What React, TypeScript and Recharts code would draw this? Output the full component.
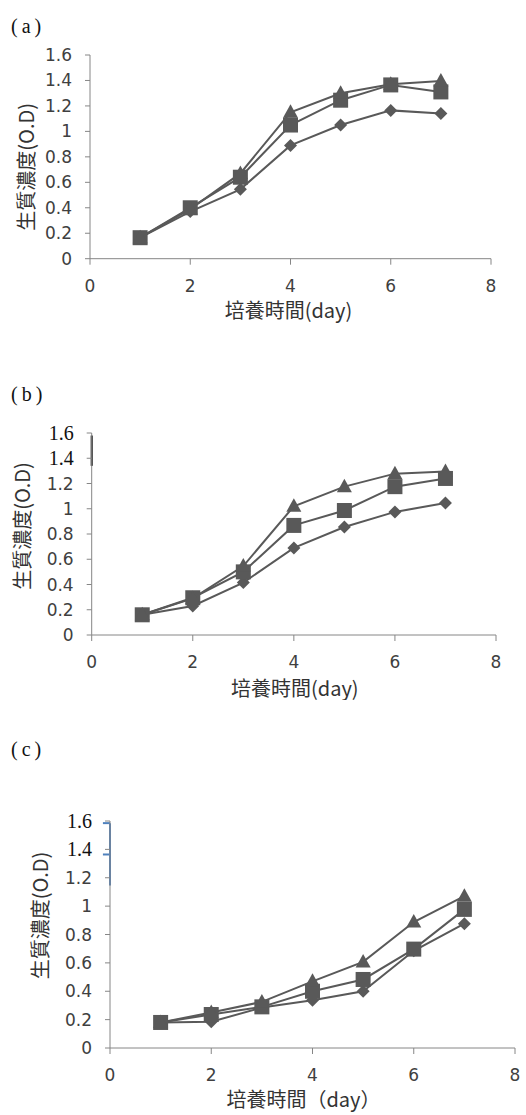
import React from "react";
import { LineChart, Line, XAxis, YAxis, ReferenceLine, Label } from "recharts";

// culture day on the x axis
const days = [1, 2, 3, 4, 5, 6, 7];

// panel (a)
const aDiamond = [0.165, 0.37, 0.545, 0.89, 1.05, 1.165, 1.14];
const aSquare = [0.165, 0.4, 0.64, 1.05, 1.245, 1.365, 1.31];
const aTriangle = [0.165, 0.39, 0.67, 1.15, 1.3, 1.37, 1.395];

// panel (b)
const bDiamond = [0.16, 0.23, 0.415, 0.69, 0.855, 0.975, 1.045];
const bSquare = [0.16, 0.295, 0.5, 0.868, 0.986, 1.175, 1.24];
const bTriangle = [0.16, 0.29, 0.546, 1.02, 1.175, 1.278, 1.295];

// panel (c)
const cDiamond = [0.18, 0.185, 0.285, 0.337, 0.4, 0.685, 0.876];
const cSquare = [0.18, 0.236, 0.29, 0.4, 0.483, 0.697, 0.977];
const cTriangle = [0.18, 0.25, 0.325, 0.47, 0.607, 0.888, 1.07];

const xTicks = [0, 2, 4, 6, 8];
const yTicks = [0, 0.2, 0.4, 0.6, 0.8, 1, 1.2, 1.4, 1.6];

const yTitle = "生質濃度(O.D)";
const xTitleAB = "培養時間(day)";
const xTitleC = "培養時間（day）";

const AXIS = "#868686";
const SERIES = "#595959";
const CJK = "'Noto Sans CJK TC', 'Noto Sans CJK JP', sans-serif";

const toRows = (d: number[], s: number[], t: number[]) =>
  days.map((day, i) => ({ day, diamond: d[i], square: s[i], triangle: t[i] }));

const DiamondDot = (p: any) => {
  const { cx, cy, index } = p;
  if (cx == null || cy == null) return <g key={`d${index}`} />;
  const r = 6.5;
  return (
    <polygon
      key={`d${index}`}
      points={`${cx},${cy - r} ${cx + r},${cy} ${cx},${cy + r} ${cx - r},${cy}`}
      fill={SERIES}
    />
  );
};

const SquareDot = (p: any) => {
  const { cx, cy, index } = p;
  if (cx == null || cy == null) return <g key={`s${index}`} />;
  const r = 7.5;
  return <rect key={`s${index}`} x={cx - r} y={cy - r} width={2 * r} height={2 * r} fill={SERIES} />;
};

const TriangleDot = (p: any) => {
  const { cx, cy, index } = p;
  if (cx == null || cy == null) return <g key={`t${index}`} />;
  return (
    <polygon
      key={`t${index}`}
      points={`${cx},${cy - 8} ${cx + 7.5},${cy + 5.5} ${cx - 7.5},${cy + 5.5}`}
      fill={SERIES}
    />
  );
};

// the top two labels of (b) and (c) are set in a serif face in the original
const makeYTick = (serif: number[]) => (props: any) => {
  const { x, y, payload } = props;
  const v = Number(payload && payload.value);
  const isSerif = serif.some((s) => Math.abs(s - v) < 1e-6);
  return (
    <text
      x={x}
      y={y}
      dy="0.355em"
      textAnchor="end"
      style={{
        fontFamily: isSerif ? "'Liberation Serif', 'Times New Roman', serif" : "'DejaVu Sans', sans-serif",
        fontSize: isSerif ? 20 : 17,
        fill: isSerif ? "#111" : "#404040",
      }}
    >
      {String(v)}
    </text>
  );
};

const yTitleLabel = (dx: number, dy: number) => (props: any) => {
  const { x, y, width, height } = props.viewBox;
  const cx = x + width - dx;
  const cy = y + height / 2 + dy;
  return (
    <text
      x={cx}
      y={cy}
      transform={`rotate(-90 ${cx} ${cy})`}
      textAnchor="middle"
      dominantBaseline="central"
      fontFamily={CJK}
      fontSize={20}
      fill="#333"
    >
      {yTitle}
    </text>
  );
};

const xTitleLabel = (text: string, dx: number, dy: number) => (props: any) => {
  const { x, y, width } = props.viewBox;
  return (
    <text
      x={x + width / 2 + dx}
      y={y + dy}
      textAnchor="middle"
      dominantBaseline="central"
      fontFamily={CJK}
      fontSize={20}
      fill="#333"
    >
      {text}
    </text>
  );
};

interface PanelProps {
  top: number;
  height: number;
  margin: { top: number; right: number; bottom: number; left: number };
  rows: any[];
  tag: string;
  tagTop: number;
  xTitle: string;
  xTitleDx: number;
  xTitleDy: number;
  yTitleDx: number;
  yTitleDy: number;
  serifTicks: number[];
  extra?: React.ReactNode;
}

function Panel(p: PanelProps) {
  return (
    <>
      <div
        style={{
          position: "absolute",
          left: 11,
          top: p.tagTop,
          fontFamily: "'Liberation Serif', serif",
          fontSize: 20,
          letterSpacing: 4,
          color: "#111",
          lineHeight: "22px",
        }}
      >
        {p.tag}
      </div>
      <div style={{ position: "absolute", left: 0, top: p.top }}>
        <LineChart width={526} height={p.height} data={p.rows} margin={p.margin}>
          <XAxis
            dataKey="day"
            type="number"
            domain={[0, 8]}
            ticks={xTicks}
            interval={0}
            stroke={AXIS}
            tickLine={{ stroke: AXIS }}
            tickSize={6}
            tickMargin={15}
            height={60}
            tick={{ fontSize: 17, fill: "#404040", fontFamily: "'DejaVu Sans', sans-serif" }}
          >
            <Label content={xTitleLabel(p.xTitle, p.xTitleDx, p.xTitleDy)} />
          </XAxis>
          <YAxis
            type="number"
            domain={[0, 1.6]}
            ticks={yTicks}
            interval={0}
            stroke={AXIS}
            tickLine={{ stroke: AXIS }}
            tickSize={5}
            tickMargin={13}
            width={60}
            tick={makeYTick(p.serifTicks)}
          >
            <Label content={yTitleLabel(p.yTitleDx, p.yTitleDy)} />
          </YAxis>
          <Line
            dataKey="diamond"
            stroke={SERIES}
            strokeWidth={2}
            dot={DiamondDot}
            activeDot={false}
            isAnimationActive={false}
          />
          <Line
            dataKey="square"
            stroke={SERIES}
            strokeWidth={2}
            dot={SquareDot}
            activeDot={false}
            isAnimationActive={false}
          />
          <Line
            dataKey="triangle"
            stroke={SERIES}
            strokeWidth={2}
            dot={TriangleDot}
            activeDot={false}
            isAnimationActive={false}
          />
          {p.extra}
        </LineChart>
      </div>
    </>
  );
}

export default function App() {
  return (
    <div
      style={{
        position: "absolute",
        left: 0,
        top: 0,
        width: 526,
        height: 1115,
        background: "#fff",
        overflow: "hidden",
      }}
    >
      <Panel
        top={0}
        height={330}
        margin={{ top: 55, right: 35, bottom: 11.3, left: 30 }}
        rows={toRows(aDiamond, aSquare, aTriangle)}
        tag="(a)"
        tagTop={15}
        xTitle={xTitleAB}
        xTitleDx={-2}
        xTitleDy={51}
        yTitleDx={64}
        yTitleDy={10}
        serifTicks={[]}
      />
      <Panel
        top={330}
        height={370}
        margin={{ top: 103, right: 30, bottom: 5, left: 31.7 }}
        rows={toRows(bDiamond, bSquare, bTriangle)}
        tag="(b)"
        tagTop={383}
        xTitle={xTitleAB}
        xTitleDx={1}
        xTitleDy={52}
        yTitleDx={70}
        yTitleDy={-8}
        serifTicks={[1.6, 1.4]}
        extra={
          <ReferenceLine
            segment={[
              { x: 0, y: 1.58 },
              { x: 0, y: 1.34 },
            ]}
            stroke="#000"
            strokeWidth={2}
            ifOverflow="visible"
          />
        }
      />
      <Panel
        top={700}
        height={415}
        margin={{ top: 121, right: 11, bottom: 7, left: 50 }}
        rows={toRows(cDiamond, cSquare, cTriangle)}
        tag="(c)"
        tagTop={738}
        xTitle={xTitleC}
        xTitleDx={-9}
        xTitleDy={50}
        yTitleDx={71}
        yTitleDy={-19}
        serifTicks={[1.6, 1.4]}
        extra={
          <>
            <ReferenceLine
              segment={[
                { x: 0, y: 1.585 },
                { x: 0, y: 1.146 },
              ]}
              stroke="#4f81bd"
              strokeWidth={2}
              ifOverflow="visible"
            />
            <ReferenceLine
              segment={[
                { x: -0.14, y: 1.585 },
                { x: 0, y: 1.585 },
              ]}
              stroke="#4f81bd"
              strokeWidth={2}
              ifOverflow="visible"
            />
            <ReferenceLine
              segment={[
                { x: -0.14, y: 1.364 },
                { x: 0, y: 1.364 },
              ]}
              stroke="#4f81bd"
              strokeWidth={2}
              ifOverflow="visible"
            />
          </>
        }
      />
    </div>
  );
}
